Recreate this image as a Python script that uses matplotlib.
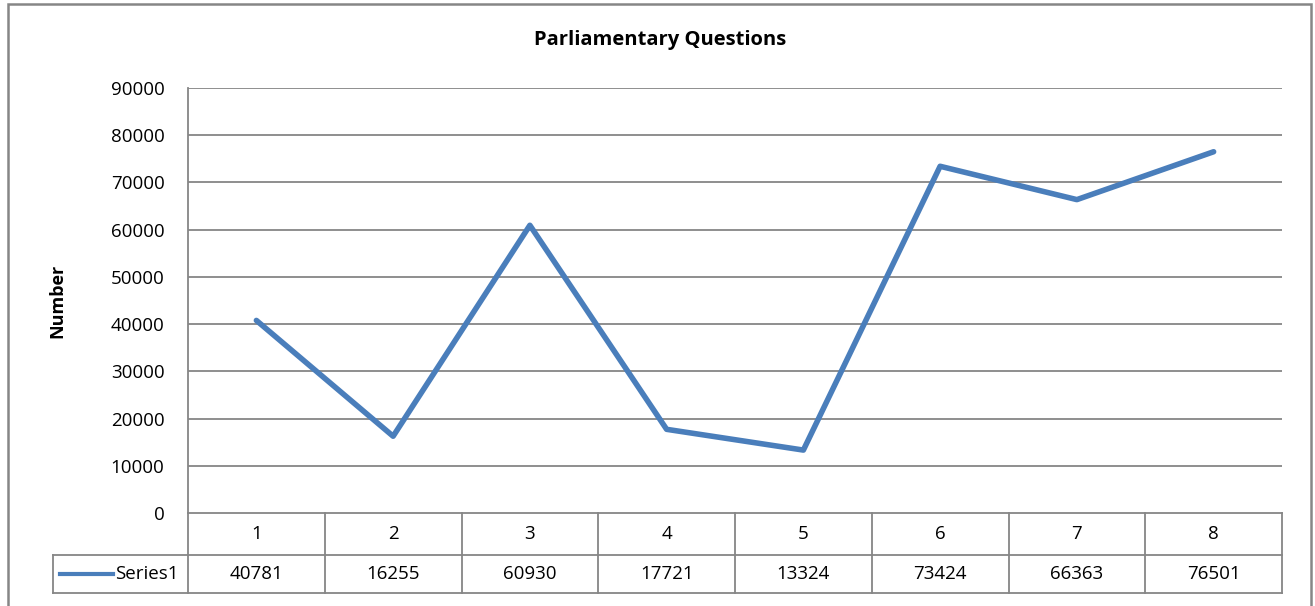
import matplotlib
matplotlib.use("Agg")
import matplotlib.pyplot as plt
import matplotlib.transforms as mtransforms
from matplotlib.lines import Line2D

categories = ["1", "2", "3", "4", "5", "6", "7", "8"]
values = [40781, 16255, 60930, 17721, 13324, 73424, 66363, 76501]
series_name = "Series1"
title = "Parliamentary Questions"
ylabel = "Number"
yticks = list(range(0, 90001, 10000))

W, H = 1315, 606
LINE_BLUE = "#4A7EBB"
GRID = "#868686"
FS = 13.5
plt.rcParams["font.family"] = ["Open Sans", "DejaVu Sans"]

fig = plt.figure(figsize=(W / 100, H / 100), dpi=100)


def px_rect(left, top, right, bottom):
    return [left / W, 1 - bottom / H, (right - left) / W, (bottom - top) / H]


# outer chart border (bottom edge falls outside the image)
fig.patches.append(plt.Rectangle((8 / W, -0.05), (1311 - 8) / W, 1.05 - 4 / H,
                                 transform=fig.transFigure, fill=False,
                                 edgecolor=GRID, lw=1.8))

ax = fig.add_axes(px_rect(188, 88, 1282, 513))
x = list(range(1, len(values) + 1))
ax.plot(x, values, color=LINE_BLUE, lw=4, solid_capstyle="round",
        solid_joinstyle="round", zorder=3)
ax.set_xlim(0.5, len(values) + 0.5)
ax.set_ylim(0, 90000)
ax.set_yticks(yticks)
ax.set_yticklabels([str(t) for t in yticks], fontsize=FS)
ax.tick_params(axis="y", length=0, pad=17)
ax.set_xticks([])
for t in yticks[1:]:
    ax.axhline(t, color=GRID, lw=1.3, zorder=1)
for side in ["top", "right", "bottom"]:
    ax.spines[side].set_visible(False)
ax.spines["left"].set_color(GRID)
ax.spines["left"].set_linewidth(1.3)

fig.text(660 / W, 1 - 40 / H, title, ha="center", va="center",
         fontsize=14.5, fontweight="bold")
fig.text(57 / W, 1 - 301 / H, ylabel, ha="center", va="center",
         rotation=90, fontsize=13, fontweight="bold")

# data table below the axis
tr = mtransforms.blended_transform_factory(ax.transData, ax.transAxes)
row_h = 42 / 425
r1 = -row_h
r2 = -2 * row_h + 4 / 425
n = len(values)
kw = dict(color=GRID, lw=1.3, transform=tr, clip_on=False)
ax.add_line(Line2D([0.5, n + 0.5], [0, 0], **kw))
ax.add_line(Line2D([-0.487, n + 0.5], [r1, r1], **kw))
ax.add_line(Line2D([-0.487, n + 0.5], [r2, r2], **kw))
ax.add_line(Line2D([-0.487, -0.487], [r1, r2], **kw))
for i in range(n + 1):
    ax.add_line(Line2D([0.5 + i, 0.5 + i], [0, r2], **kw))
for i, (c, v) in enumerate(zip(categories, values)):
    ax.text(i + 1, r1 / 2, c, transform=tr, ha="center", va="center", fontsize=FS)
    ax.text(i + 1, (r1 + r2) / 2, str(v), transform=tr, ha="center",
            va="center", fontsize=FS)

# legend key inside table
ax.add_line(Line2D([-0.434, -0.05], [(r1 + r2) / 2] * 2, color=LINE_BLUE, lw=3,
                   transform=tr, clip_on=False))
ax.text(-0.03, (r1 + r2) / 2, series_name, transform=tr, ha="left",
        va="center", fontsize=FS)

fig.savefig("out.png", dpi=100)
